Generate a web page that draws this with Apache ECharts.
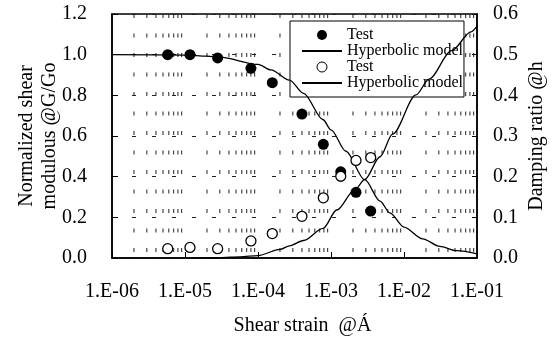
<!DOCTYPE html>
<html><head><meta charset="utf-8">
<script src="https://cdn.jsdelivr.net/npm/echarts@6/dist/echarts.min.js"></script>
<style>html,body{margin:0;padding:0;background:#fff}#c{width:552px;height:340px}</style>
</head><body><div id="c"></div>
<script>
// Test data
const strainTest = [5.8e-6, 1.17e-5, 2.8e-5, 8.0e-5, 1.57e-4, 4.0e-4, 7.85e-4, 1.36e-3, 2.2e-3, 3.5e-3];
const gTest = [1.0, 1.0, 0.984, 0.933, 0.862, 0.708, 0.559, 0.424, 0.323, 0.231];
const hTest = [0.023, 0.026, 0.023, 0.042, 0.060, 0.1025, 0.148, 0.201, 0.240, 0.247];
// Hyperbolic model curves
const strainG = [1e-6, 1e-5, 2e-5, 3e-5, 1e-4, 1.5e-4, 2.7e-4, 4.2e-4, 7.8e-4, 1.0e-3, 1.6e-3, 2.9e-3, 4.7e-3, 6.4e-3, 1.0e-2, 1.8e-2, 3.1e-2, 5.3e-2, 1e-1];
const gModel  = [1.0, 0.998, 0.993, 0.988, 0.952, 0.925, 0.875, 0.81, 0.68, 0.63, 0.525, 0.385, 0.28, 0.222, 0.152, 0.094, 0.057, 0.036, 0.020];
const strainH = [1.3e-5, 3e-5, 5.7e-5, 1e-4, 2e-4, 2.7e-4, 4.2e-4, 7.8e-4, 1.2e-3, 2.1e-3, 2.9e-3, 4.7e-3, 7e-3, 1.46e-2, 2.2e-2, 4.5e-2, 8.3e-2, 1e-1];
const hModel  = [0.0, 0.001, 0.003, 0.006, 0.021, 0.030, 0.043, 0.073, 0.118, 0.167, 0.193, 0.249, 0.305, 0.401, 0.44, 0.51, 0.556, 0.570];
// Axis/grid settings
const minorMult = [2, 3, 4, 5, 6, 7, 8, 9];
const decadeExp = [-6, -5, -4, -3, -2];
const legendNames = ['Test', 'Hyperbolic model', 'Test', 'Hyperbolic model'];

const FONT = "'Liberation Serif', 'Times New Roman', serif";
const minorX = [];
decadeExp.forEach(e => minorMult.forEach(m => minorX.push(m * Math.pow(10, e))));
const zip = (a, b) => a.map((v, i) => [v, b[i]]);
const ids = ['Test|G', 'Hyperbolic model|G', 'Test|h', 'Hyperbolic model|h'];
const hideSym = {color: 'rgba(0,0,0,0)', borderColor: 'rgba(0,0,0,0)', borderWidth: 0};

const chart = echarts.init(document.getElementById('c'), null, {renderer: 'canvas'});
chart.setOption({
  animation: false,
  backgroundColor: '#fff',
  grid: {left: 112, right: 75, top: 14, bottom: 82, containLabel: false, outerBoundsMode: 'none',
         show: true, borderColor: '#000', borderWidth: 1.5, backgroundColor: 'transparent'},
  legend: {
    orient: 'vertical', left: 290, top: 21,
    itemWidth: 40, itemHeight: 10, itemGap: 0,
    padding: [6, 1, 6, 11],
    backgroundColor: '#fff', borderColor: '#000', borderWidth: 1,
    textStyle: {fontFamily: FONT, fontSize: 16, color: '#000', lineHeight: 15},
    formatter: n => legendNames[ids.indexOf(n)],
    data: [
      {name: ids[0], icon: 'circle', itemStyle: {color: '#000'}},
      {name: ids[1], itemStyle: hideSym},
      {name: ids[2], icon: 'circle', itemStyle: {color: '#fff', borderColor: '#000', borderWidth: 1}},
      {name: ids[3], itemStyle: hideSym}
    ]
  },
  xAxis: {
    type: 'log', logBase: 10, min: 1e-6, max: 1e-1, splitNumber: 5,
    axisLine: {show: true, onZero: false, lineStyle: {color: '#000', width: 1.5}},
    axisTick: {show: true, inside: true, length: 6, lineStyle: {color: '#000'}},
    axisLabel: {color: '#000', fontFamily: FONT, fontSize: 20, margin: 24,
      formatter: v => { const e = Math.round(Math.log10(v)); return '1.E' + (e < 0 ? '-' : '+') + String(Math.abs(e)).padStart(2, '0'); }},
    splitLine: {show: false},
    name: 'Shear strain  @Á', nameLocation: 'middle', nameGap: 58, nameMoveOverlap: false,
    nameTextStyle: {color: '#000', fontFamily: FONT, fontSize: 20, padding: [0, 0, 0, 16]}
  },
  yAxis: [{
    type: 'value', min: 0, max: 1.2, interval: 0.2, position: 'left',
    axisLine: {show: true, lineStyle: {color: '#000', width: 1.5}},
    axisTick: {show: true, inside: true, length: 6, lineStyle: {color: '#000'}},
    axisLabel: {color: '#000', fontFamily: FONT, fontSize: 20, margin: 25, formatter: v => v.toFixed(1)},
    splitLine: {show: true, lineStyle: {type: [4, 16], color: '#222', width: 1}},
    name: 'Normalized shear\nmodulous @G/Go', nameLocation: 'middle', nameGap: 51, nameRotate: 90, nameMoveOverlap: false,
    nameTextStyle: {color: '#000', fontFamily: FONT, fontSize: 20, lineHeight: 23}
  }, {
    type: 'value', min: 0, max: 0.6, interval: 0.1, position: 'right',
    axisLine: {show: true, lineStyle: {color: '#000', width: 1.5}},
    axisTick: {show: true, inside: true, length: 5, lineStyle: {color: '#000'}},
    axisLabel: {color: '#000', fontFamily: FONT, fontSize: 20, margin: 16, formatter: v => v.toFixed(1)},
    splitLine: {show: false},
    name: 'Damping ratio @h', nameLocation: 'middle', nameGap: 50, nameRotate: 90, nameMoveOverlap: false,
    nameTextStyle: {color: '#000', fontFamily: FONT, fontSize: 20}
  }],
  series: [
    {type: 'custom', name: 'minorGrid', silent: true, z: 1, clip: true,
     data: minorX.map(v => [v, 0]),
     encode: {x: 0, y: 1},
     renderItem: (params, api) => {
       const cs = params.coordSys;
       const x = api.coord([api.value(0), 0])[0];
       return {type: 'line', silent: true,
         shape: {x1: x, y1: cs.y + cs.height, x2: x, y2: cs.y},
         style: {stroke: '#222', lineWidth: 1, lineDash: [4, 15.5], lineDashOffset: 13.5}};
     }},
    {type: 'line', name: ids[1], yAxisIndex: 0, data: zip(strainG, gModel), symbol: 'none', showSymbol: false,
     smooth: 0.3, smoothMonotone: 'x', lineStyle: {color: '#000', width: 1.3}, itemStyle: {color: '#000'}, z: 4},
    {type: 'line', name: ids[3], yAxisIndex: 1, data: zip(strainH, hModel), symbol: 'none', showSymbol: false,
     smooth: 0.3, smoothMonotone: 'x', lineStyle: {color: '#000', width: 1.3}, itemStyle: {color: '#000'}, z: 4},
    {type: 'scatter', name: ids[0], yAxisIndex: 0, data: zip(strainTest, gTest), symbolSize: 11,
     itemStyle: {color: '#000', opacity: 1}, z: 5},
    {type: 'scatter', name: ids[2], yAxisIndex: 1, data: zip(strainTest, hTest), symbolSize: 10,
     itemStyle: {color: '#fff', borderColor: '#000', borderWidth: 1.3, opacity: 1}, z: 5}
  ]
});
</script></body></html>
